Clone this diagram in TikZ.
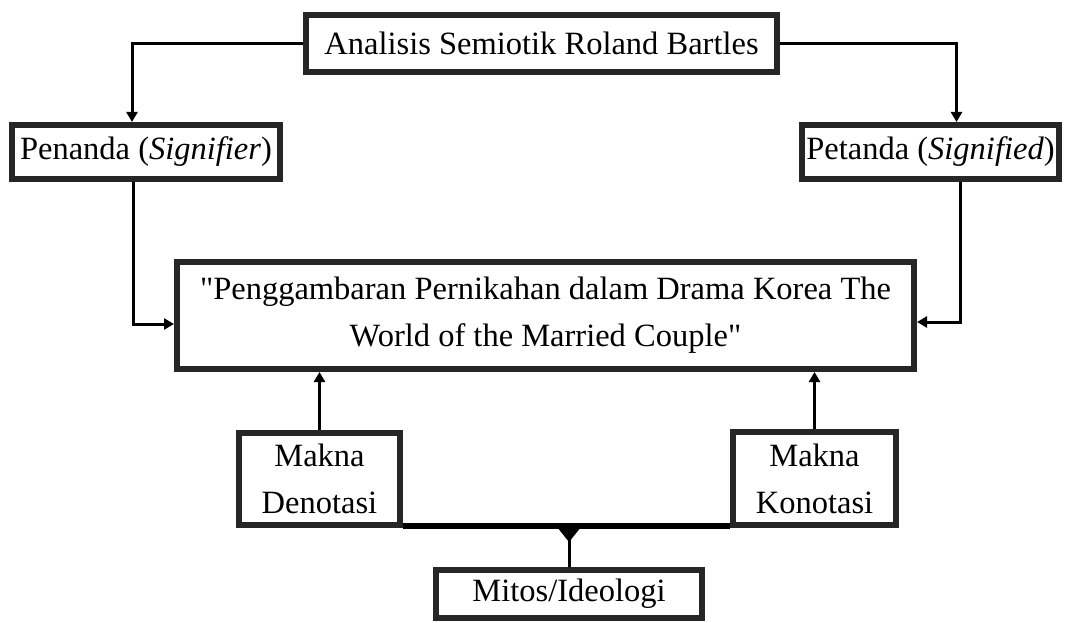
\documentclass[tikz,border=0pt]{standalone}
\usepackage{fontspec}
\setmainfont{Liberation Serif}
\newfontfamily\plainqfont{Liberation Serif}
\newcommand{\straightq}{{\plainqfont"}}
\usetikzlibrary{arrows.meta,calc}
\begin{document}
\begin{tikzpicture}[x=1pt,y=-1pt,
  box/.style={draw=black!85, line width=6pt, inner sep=0pt, fill=white,
    font=\fontsize{32.5}{47}\selectfont, align=center},
  conn/.style={line width=3pt, -{Triangle[length=10pt,width=11pt]}},
  plain/.style={line width=3pt},
]
\useasboundingbox (0,0) rectangle (1065,623);
\node[box, minimum width=471pt, minimum height=57pt] (top) at (541.5,43.5) {Analisis Semiotik Roland Bartles};
\node[box, minimum width=268pt, minimum height=54pt] (pen) at (146,152) {Penanda (\textit{Signifier})};
\node[box, minimum width=257pt, minimum height=54pt] (pet) at (930.5,152) {Petanda (\textit{Signified})};
\node[box, minimum width=737pt, minimum height=107pt] (main) at (545.5,315.5) {\straightq Penggambaran Pernikahan dalam Drama Korea The\\World of the Married Couple\straightq};
\node[box, minimum width=161pt, minimum height=92pt] (den) at (319.5,479) {Makna\\Denotasi};
\node[box, minimum width=163pt, minimum height=93pt] (kon) at (814.5,478.5) {Makna\\Konotasi};
\node[box, minimum width=266pt, minimum height=48pt] (mit) at (569,594) {Mitos/Ideologi};

\draw[conn] (top.west) -| ($(pen.north)+(-14,0)$);
\draw[conn] (top.east) -| ($(pet.north)+(26,0)$);
\draw[conn] ($(pen.south)+(-13,0)$) |- ($(main.west)+(0,8.5)$);
\draw[conn] ($(pet.south)+(29.5,0)$) |- ($(main.east)+(0,6.5)$);
\draw[conn] (den.north) -- (den.north |- main.south);
\draw[conn] (kon.north) -- (kon.north |- main.south);

\coordinate (j) at ($(mit.north)+(0,-40)$);
\draw[line width=6pt] ($(den.south east)+(0,-2)$) -- ($(kon.south west)+(0,-2)$);
\draw[plain] (j) -- (mit.north);
\fill ($(j)+(-12,0)$) -- ($(j)+(12,0)$) -- ($(j)+(0,15)$) -- cycle;
\end{tikzpicture}
\end{document}
